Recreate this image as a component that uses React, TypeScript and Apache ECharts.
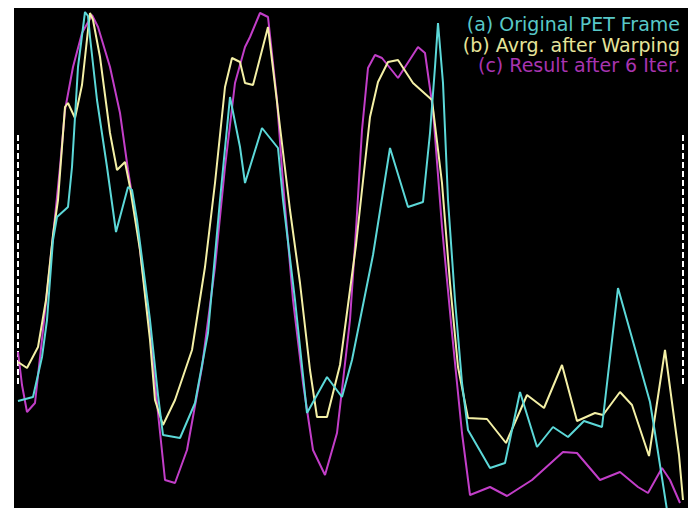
import React, { useEffect, useRef } from "react";
import * as echarts from "echarts";

// Sample position (0..133) and intensity (0..100) for each profile
const originalPET: [number, number][] = [
  [0, 21.4], [3, 22.2], [4.8, 30.2], [5.8, 37.6], [7, 53.6], [7.8, 58.2], [10, 60.2], [10.8, 68.2],
  [12, 88.2], [13.4, 99.2], [14, 98.4], [14.4, 94.2], [15.8, 81.6], [17.8, 68.2], [19.6, 55.2],
  [22, 64.2], [22.8, 63.6], [23.8, 57.6], [26.4, 37.6], [28, 22.6], [29, 14.6], [32.4, 14],
  [35.4, 21], [38, 35], [40.4, 61.6], [42.4, 82.2], [44.4, 72.2], [45.4, 65], [48.8, 76], [52, 72],
  [53, 61.6], [55.4, 41.6], [57.8, 19], [61.8, 26.2], [64.8, 22.2], [66.8, 29.6], [71, 50.6],
  [74.4, 72], [78, 60.2], [81, 61.2], [82.4, 75], [83.4, 88.2], [84, 97], [85, 85], [86, 61.6],
  [87.4, 41.6], [88.8, 25], [90, 15.6], [94.4, 8], [97.4, 9], [100.4, 23.2], [103.8, 12.2],
  [107, 16.2], [110, 14.2], [113.2, 17.4], [116.8, 16.2], [120, 44], [126.4, 21.2], [127.4, 15],
  [129.8, -0.4],
];

const avgWarping: [number, number][] = [
  [0, 29.2], [1.8, 28], [4, 32.2], [5.6, 41.6], [7, 54.6], [8, 61.6], [9.4, 80.2], [10, 81],
  [11.4, 78], [12.8, 84.6], [14, 95.6], [14.4, 99], [15, 97.6], [16.4, 90.2], [18.4, 75],
  [19.8, 67.6], [21.4, 69.2], [22.4, 64.2], [24.4, 51.6], [26.4, 33.6], [27.4, 21.6], [29, 16.6],
  [31.4, 21.6], [34.8, 31.6], [37.4, 48.2], [39.4, 65], [41.4, 84.2], [42.8, 90], [44.4, 89.2],
  [45.4, 85], [47, 84.6], [50, 96.2], [52.4, 76.2], [54.4, 59.6], [56.4, 45], [58.4, 27.6],
  [59.8, 18.2], [61.8, 18.2], [64.4, 28.6], [66.4, 43.6], [67.6, 52.6], [68.8, 63.6], [70.4, 78.2],
  [72, 85.2], [74, 89.2], [76, 89.6], [79, 85], [82.8, 81.6], [84.8, 65], [86.4, 45], [88, 28.2],
  [90, 18], [93.8, 17.8], [97.6, 13], [101.8, 22.6], [105.2, 20], [108.8, 28.6], [111.8, 17.4],
  [115.4, 19], [117, 18.6], [120.4, 23.2], [122.8, 20.6], [126.2, 10.4], [129.4, 31.6],
  [132.2, 10.6], [133, 1.6],
];

const result6Iter: [number, number][] = [
  [0, 31.2], [0.8, 24.6], [1.8, 19.2], [3.4, 21], [5, 35.6], [7.4, 58.2], [8.4, 68.2], [9.4, 79.6],
  [11, 88.2], [12.8, 95], [14.8, 98.6], [16, 96.2], [18.4, 88.2], [20.4, 79], [22, 67.6], [24, 55],
  [26.4, 35], [28, 19], [29.4, 5.6], [31.4, 5], [33.8, 11.6], [36.8, 28.2], [39.4, 48.2],
  [41.4, 68.2], [43.4, 85], [45.4, 92.2], [46.4, 94.2], [48.4, 99], [50, 98.2], [51.8, 81.6],
  [53, 65], [55, 41.6], [57, 25], [59, 11.6], [61.4, 6.6], [63.8, 15], [66.4, 37.6], [67.6, 55.6],
  [68.8, 75.6], [70, 88], [71.4, 90.6], [72.8, 90], [76, 86], [80, 92.2], [81.4, 91], [83, 79.6],
  [84.8, 56.2], [86.8, 35], [88.8, 15], [90.4, 2.6], [94.4, 4.2], [97.8, 2.4], [102.8, 5.6],
  [109, 11.2], [111.8, 11], [116.4, 5.6], [120.4, 7.2], [124, 4.2], [126, 3], [128.8, 8],
  [130.4, 5.6], [132.4, 1],
];

// Dashed extent markers
const leftMarker: [number, number][] = [[0, 74.6], [0, 24.6]];
const rightMarker: [number, number][] = [[133, 74.6], [133, 24.6]];

const legendLabels = ["(a) Original PET Frame", "(b) Avrg. after Warping", "(c) Result after 6 Iter."];

const LINE_COLORS = ["#5cd8d8", "#f4f0a6", "#c23ec8"];
const TEXT_COLORS = ["#58c8c8", "#e6e49a", "#a834b0"];

export default function App() {
  const ref = useRef<HTMLDivElement>(null);

  useEffect(() => {
    if (!ref.current) return;
    const chart = echarts.init(ref.current, undefined, { renderer: "svg" });
    const seriesData = [originalPET, avgWarping, result6Iter];
    chart.setOption({
      animation: false,
      backgroundColor: "transparent",
      grid: { left: 18, right: 5, top: 8, bottom: 0 },
      xAxis: { type: "value", min: 0, max: 133, show: false },
      yAxis: { type: "value", min: 0, max: 100, show: false },
      graphic: [
        {
          type: "rect",
          z: -10,
          silent: true,
          shape: { x: 14, y: 8, width: 674, height: 500 },
          style: { fill: "#000" },
        },
        ...legendLabels.map((t, i) => ({
          type: "text",
          z: 10,
          x: 680,
          y: 24 + i * 20.5,
          style: {
            text: t,
            fill: TEXT_COLORS[i],
            font: '19px "DejaVu Sans"',
            lineHeight: 19,
            textAlign: "right",
            textVerticalAlign: "middle",
          },
        })),
      ],
      series: [
        ...seriesData.map((d, i) => ({
          type: "line",
          name: legendLabels[i],
          data: d,
          symbol: "none",
          clip: true,
          z: i === 0 ? 4 : i === 1 ? 3 : 2,
          lineStyle: { color: LINE_COLORS[i], width: 2 },
        })),
        ...[leftMarker, rightMarker].map((d) => ({
          type: "line",
          data: d,
          symbol: "none",
          z: 1,
          lineStyle: { color: "#ffffff", width: 2, type: [6, 3] },
        })),
      ],
    });
    return () => chart.dispose();
  }, []);

  return (
    <div style={{ position: "fixed", left: 0, top: 0, width: 688, height: 508, background: "#fff" }}>
      <div ref={ref} style={{ width: 688, height: 508 }} />
    </div>
  );
}
